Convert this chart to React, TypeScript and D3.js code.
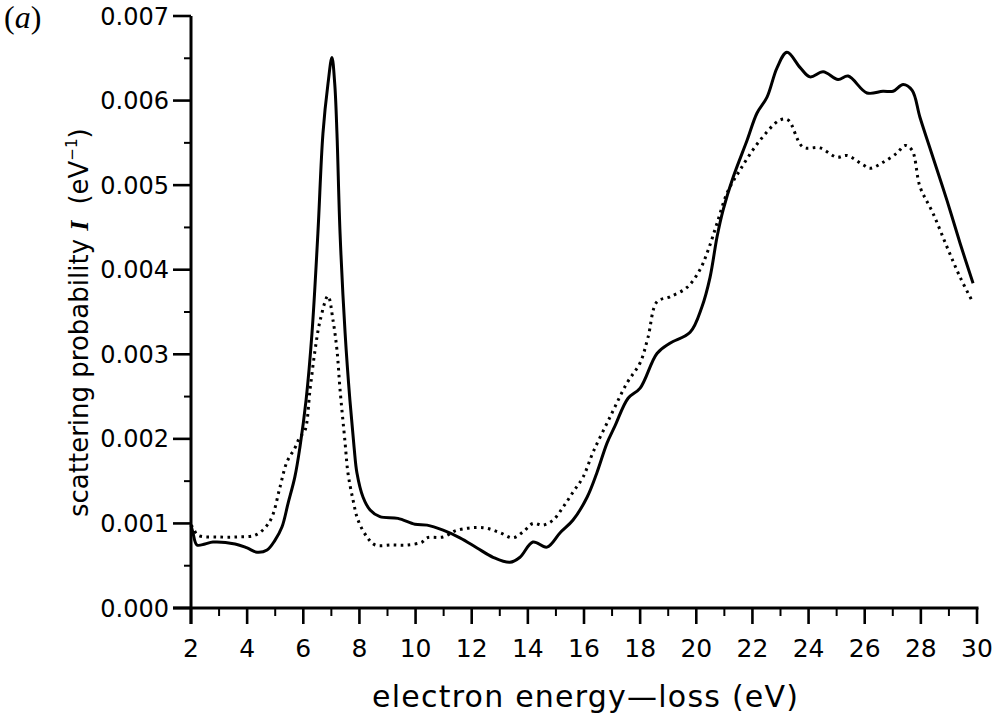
import React from "react";
import * as d3 from "d3";

// ---- data ----
const solidEnergy = [2.0, 2.07, 2.21, 2.5, 2.78, 3.57, 4.0, 4.35, 4.71, 4.99, 5.24, 5.46, 5.7, 5.88, 6.1, 6.31, 6.52, 6.7, 6.88, 7.02, 7.12, 7.2, 7.31, 7.49, 7.66, 7.81, 7.91, 8.13, 8.38, 8.73, 9.37, 9.98, 10.41, 10.98, 11.58, 12.19, 12.76, 13.36, 13.72, 14.18, 14.68, 15.15, 15.61, 16.11, 16.46, 16.82, 17.1, 17.57, 18.0, 18.6, 19.06, 19.78, 20.2, 20.49, 20.74, 20.95, 21.31, 21.81, 22.16, 22.52, 22.88, 23.23, 23.7, 24.05, 24.52, 25.05, 25.41, 26.08, 26.65, 27.01, 27.37, 27.69, 27.97, 28.43, 28.93, 29.4, 29.86];
const solidValue = [0.00098, 0.00089, 0.000745, 0.000757, 0.00078, 0.000757, 0.00071, 0.00066, 0.000686, 0.0008, 0.000957, 0.00124, 0.00155, 0.0019, 0.00246, 0.00325, 0.00443, 0.00561, 0.0062, 0.00651, 0.0062, 0.00561, 0.00443, 0.00325, 0.00246, 0.0019, 0.0016, 0.00131, 0.00116, 0.00108, 0.00106, 0.00099, 0.00098, 0.00092, 0.00083, 0.00071, 0.0006, 0.00054, 0.0006, 0.00078, 0.00072, 0.00089, 0.00104, 0.00131, 0.0016, 0.00195, 0.00215, 0.00248, 0.0026, 0.00301, 0.00313, 0.00326, 0.00356, 0.00391, 0.00439, 0.0047, 0.00509, 0.00553, 0.00585, 0.00604, 0.00639, 0.00657, 0.00639, 0.00628, 0.00634, 0.00625, 0.00629, 0.00609, 0.00611, 0.00611, 0.00619, 0.00612, 0.0058, 0.00533, 0.00482, 0.00431, 0.00384];

const dottedEnergy = [2.0, 2.07, 2.25, 2.96, 3.67, 4.28, 4.64, 4.89, 5.17, 5.42, 5.7, 5.88, 6.06, 6.24, 6.42, 6.6, 6.88, 7.06, 7.2, 7.31, 7.49, 7.59, 7.77, 7.95, 8.27, 8.56, 9.16, 9.73, 10.23, 10.41, 10.98, 11.48, 12.4, 13.01, 13.47, 13.83, 14.18, 14.54, 14.9, 15.25, 15.61, 15.97, 16.32, 16.93, 17.53, 18.0, 18.28, 18.6, 19.06, 19.67, 20.13, 20.42, 20.74, 21.1, 21.56, 22.27, 22.98, 23.27, 23.8, 24.41, 25.01, 25.37, 25.94, 26.19, 26.65, 27.15, 27.44, 27.69, 27.97, 28.43, 28.93, 29.4, 29.86];
const dottedValue = [0.00098, 0.00095, 0.00086, 0.00084, 0.00084, 0.00086, 0.00095, 0.00108, 0.00143, 0.00173, 0.00189, 0.00202, 0.0021, 0.00258, 0.00305, 0.0034, 0.00369, 0.0034, 0.00305, 0.00258, 0.00195, 0.0016, 0.00128, 0.00104, 0.00084, 0.000745, 0.000745, 0.000745, 0.00078, 0.00083, 0.00084, 0.00092, 0.00095, 0.00089, 0.00083, 0.0009, 0.001, 0.00098, 0.00104, 0.00119, 0.00137, 0.00155, 0.00184, 0.00226, 0.00266, 0.0029, 0.0032, 0.00362, 0.00368, 0.00379, 0.004, 0.00423, 0.00455, 0.00491, 0.00518, 0.00553, 0.00577, 0.00577, 0.00545, 0.00544, 0.00533, 0.00535, 0.00524, 0.0052, 0.00527, 0.00538, 0.00547, 0.00541, 0.00498, 0.00467, 0.00427, 0.00391, 0.00361];

const xMajorTicks = [2, 4, 6, 8, 10, 12, 14, 16, 18, 20, 22, 24, 26, 28, 30];
const xMinorTicks = [3, 5, 7, 9, 11, 13, 15, 17, 19, 21, 23, 25, 27, 29];
const yMajorTicks = [0, 0.001, 0.002, 0.003, 0.004, 0.005, 0.006, 0.007];
const yMinorTicks = [0.0005, 0.0015, 0.0025, 0.0035, 0.0045, 0.0055, 0.0065];

const panelLabel = "a";
const xTitle = "electron energy\u2014loss (eV)";
const yTitle = "scattering probability ";

export default function App() {
  const x = d3.scaleLinear().domain([2, 30]).range([191, 977]);
  const y = d3.scaleLinear().domain([0, 0.007]).range([608, 16]);
  const line = d3
    .line<[number, number]>()
    .x((d) => x(d[0]))
    .y((d) => y(d[1]))
    .curve(d3.curveCatmullRom.alpha(0.5));
  const solidPts: [number, number][] = solidEnergy.map((e, i) => [e, solidValue[i]]);
  const dottedPts: [number, number][] = dottedEnergy.map((e, i) => [e, dottedValue[i]]);
  const fmt = d3.format(".3f");
  const sans = "'DejaVu Sans', sans-serif";

  return (
    <svg
      width={1007}
      height={721}
      style={{ position: "absolute", left: 0, top: 0, background: "#fff" }}
    >
      <rect x={0} y={0} width={1007} height={721} fill="#fff" />
      {/* panel label */}
      <text x={4} y={28} fontFamily="'Liberation Serif', serif" fontSize={32} fill="#000">
        (<tspan fontStyle="italic">{panelLabel}</tspan>)
      </text>

      {/* curves */}
      <path d={line(dottedPts) || ""} fill="none" stroke="#000" strokeWidth={3} strokeDasharray="2.6 4.4" />
      <path d={line(solidPts) || ""} fill="none" stroke="#000" strokeWidth={3} strokeLinejoin="round" />

      {/* axes */}
      <line x1={x(2)} x2={x(2)} y1={y(0.007)} y2={y(0) + 16} stroke="#000" strokeWidth={3} />
      <line x1={x(2) - 18} x2={x(30) + 1.5} y1={y(0)} y2={y(0)} stroke="#000" strokeWidth={3} />

      {yMajorTicks.map((t) => (
        <g key={"ym" + t}>
          <line x1={x(2) - 18} x2={x(2)} y1={y(t)} y2={y(t)} stroke="#000" strokeWidth={2.6} />
          <text x={x(2) - 22} y={y(t)} dy="0.36em" textAnchor="end" fontFamily={sans} fontSize={24} fill="#000">
            {fmt(t)}
          </text>
        </g>
      ))}
      {yMinorTicks.map((t) => (
        <line key={"yn" + t} x1={x(2) - 7} x2={x(2)} y1={y(t)} y2={y(t)} stroke="#000" strokeWidth={2} />
      ))}
      {xMajorTicks.map((t) => (
        <g key={"xm" + t}>
          <line x1={x(t)} x2={x(t)} y1={y(0)} y2={y(0) + 16} stroke="#000" strokeWidth={2.6} />
          <text x={x(t)} y={657} textAnchor="middle" fontFamily={sans} fontSize={25} fill="#000">
            {t}
          </text>
        </g>
      ))}
      {xMinorTicks.map((t) => (
        <line key={"xn" + t} x1={x(t)} x2={x(t)} y1={y(0)} y2={y(0) + 8} stroke="#000" strokeWidth={2} />
      ))}

      {/* axis titles */}
      <text
        x={372}
        y={707}
        textLength={426}
        lengthAdjust="spacing"
        fontFamily={sans}
        fontSize={30}
        fill="#000"
      >
        {xTitle}
      </text>
      <text transform="translate(88,517) rotate(-90)" fontFamily={sans} fontSize={26} fill="#000">
        {yTitle}
        <tspan fontFamily="'Liberation Serif', serif" fontStyle="italic" fontWeight="bold">I</tspan>
        <tspan dx={16}>(eV</tspan>
        <tspan fontSize={15} dy={-11}>{"\u22121"}</tspan>
        <tspan dy={11}>)</tspan>
      </text>
    </svg>
  );
}
